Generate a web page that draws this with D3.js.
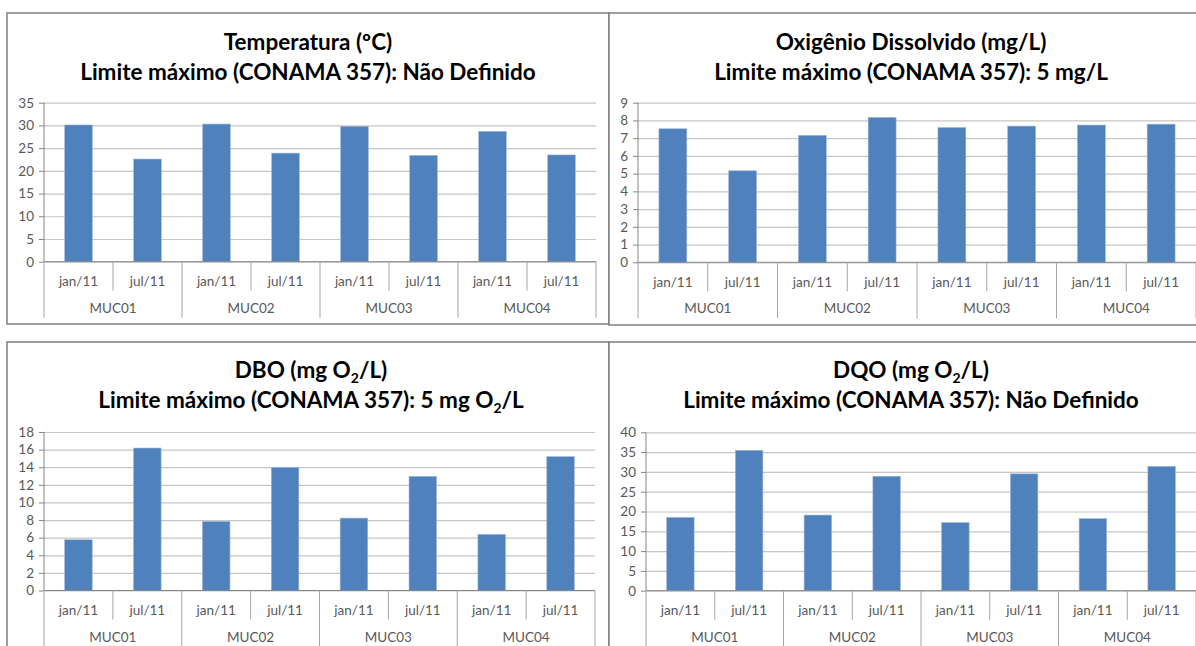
<!DOCTYPE html>
<html>
<head>
<meta charset="utf-8">
<script src="https://cdn.jsdelivr.net/npm/d3@7"></script>
<style>
body { margin: 0; background: #fff; }
svg { display: block; }
</style>
</head>
<body>
<svg width="1196" height="646"></svg>
<script>
const svg = d3.select("svg");

// data
const stations = ["MUC01", "MUC02", "MUC03", "MUC04"];
const periods = ["jan/11", "jul/11"];
const temperatura = [30.1, 22.6, 30.3, 23.9, 29.8, 23.4, 28.7, 23.5];
const oxigenio = [7.53, 5.16, 7.16, 8.17, 7.6, 7.68, 7.74, 7.79];
const dbo = [5.76, 16.18, 7.84, 13.98, 8.22, 12.96, 6.37, 15.2];
const dqo = [18.5, 35.45, 19.1, 28.9, 17.2, 29.5, 18.2, 31.4];
const yMax = [35, 9, 18, 40];
const yStep = [5, 1, 2, 5];
const titles = [
	["Temperatura (ºC)", "Limite máximo (CONAMA 357): Não Definido"],
	["Oxigênio Dissolvido (mg/L)", "Limite máximo (CONAMA 357): 5 mg/L"],
	["DBO (mg O|2|/L)", "Limite máximo (CONAMA 357): 5 mg O|2|/L"],
	["DQO (mg O|2|/L)", "Limite máximo (CONAMA 357): Não Definido"]
];
const series = [temperatura, oxigenio, dbo, dqo];

const categories = [];
stations.forEach(s => periods.forEach(p => categories.push(s + "|" + p)));

const font = "Lato, 'Noto Sans', sans-serif";

// layout of the four panels
const panels = [
	{ frame: [7, 13, 602, 311], cx: 308, titleY: 50, plot: { left: 44, right: 596, top: 102.7, bottom: 261.7 } },
	{ frame: [609, 13, 610, 312], cx: 911, titleY: 50, plot: { left: 638, right: 1196, top: 102.7, bottom: 262.3 } },
	{ frame: [7, 342, 602, 320], cx: 311, titleY: 378, plot: { left: 44, right: 595, top: 432, bottom: 590.5 } },
	{ frame: [609, 342, 610, 320], cx: 911, titleY: 378, plot: { left: 646, right: 1196, top: 432.3, bottom: 590.7 } }
];

const writeTitle = (sel, str) => {
	// "|2|" marks a subscript
	const parts = str.split("|");
	parts.forEach((part, i) => {
		const t = sel.append("tspan").text(part);
		if (i % 2 === 1) {
			t.attr("font-size", 14).attr("dy", 5);
		} else if (i > 0) {
			t.attr("dy", -5);
		}
	});
};

const render = (panel, values, max, step, title) => {
	const [fx, fy, fw, fh] = panel.frame;
	const p = panel.plot;

	svg.append("rect")
		.attr("x", fx).attr("y", fy)
		.attr("width", fw).attr("height", fh)
		.attr("fill", "#fff")
		.attr("stroke", "#7f7f7f")
		.attr("stroke-width", 1.5);

	title.forEach((line, i) => {
		const t = svg.append("text")
			.attr("x", panel.cx)
			.attr("y", panel.titleY + i * 30)
			.attr("text-anchor", "middle")
			.attr("font-family", font)
			.attr("font-weight", "bold")
			.attr("font-size", 22.5)
			.attr("fill", "#000");
		writeTitle(t, line);
	});

	const xScale = d3.scaleBand()
		.domain(categories)
		.range([p.left, p.right]);

	const groupScale = d3.scaleBand()
		.domain(stations)
		.range([p.left, p.right]);

	const yScale = d3.scaleLinear()
		.domain([0, max])
		.range([p.bottom, p.top]);

	const ticks = d3.range(0, max + step / 2, step);

	const yAxis = d3.axisLeft(yScale)
		.tickValues(ticks)
		.tickSize(-(p.right - p.left))
		.tickPadding(10)
		.tickFormat(d3.format("d"));

	const yGroup = svg.append("g")
		.attr("transform", `translate(${p.left},0)`)
		.call(yAxis);
	yGroup.select(".domain").remove();
	yGroup.selectAll(".tick line")
		.attr("stroke", "#c6c6c6")
		.attr("stroke-width", 1.2);
	yGroup.selectAll(".tick")
		.append("line")
		.attr("x1", -5).attr("x2", 0)
		.attr("stroke", "#868686");
	yGroup.selectAll(".tick text")
		.attr("font-family", font)
		.attr("font-size", 13.5)
		.attr("fill", "#595959");

	// bars
	svg.append("g").selectAll("rect")
		.data(values)
		.enter().append("rect")
			.attr("x", (d, i) => xScale(categories[i]) + xScale.bandwidth() * 0.3)
			.attr("width", xScale.bandwidth() * 0.4)
			.attr("y", d => yScale(d))
			.attr("height", d => yScale(0) - yScale(d))
			.attr("fill", "#4f81bd")
			.attr("stroke", "#9db6d9")
			.attr("stroke-width", 0.6);

	// category axis
	const axisColor = "#a6a6a6";
	const cat = svg.append("g");
	cat.append("line")
		.attr("x1", p.left).attr("x2", p.right)
		.attr("y1", p.bottom).attr("y2", p.bottom)
		.attr("stroke", "#868686");
	cat.append("line")
		.attr("x1", p.left).attr("x2", p.left)
		.attr("y1", p.top).attr("y2", p.bottom)
		.attr("stroke", "#868686");

	categories.forEach((c, i) => {
		const x0 = xScale(c);
		if (i % 2 === 1) {
			cat.append("line")
				.attr("x1", x0).attr("x2", x0)
				.attr("y1", p.bottom).attr("y2", p.bottom + 29)
				.attr("stroke", axisColor);
		}
		cat.append("text")
			.attr("x", x0 + xScale.bandwidth() / 2)
			.attr("y", p.bottom + 24.5)
			.attr("text-anchor", "middle")
			.attr("font-family", font)
			.attr("font-size", 13.5)
			.attr("fill", "#595959")
			.text(c.split("|")[1]);
	});

	stations.forEach((s, i) => {
		const x0 = groupScale(s);
		cat.append("line")
			.attr("x1", x0).attr("x2", x0)
			.attr("y1", p.bottom).attr("y2", p.bottom + 56)
			.attr("stroke", axisColor);
		cat.append("text")
			.attr("x", x0 + groupScale.bandwidth() / 2)
			.attr("y", p.bottom + 51)
			.attr("text-anchor", "middle")
			.attr("font-family", font)
			.attr("font-size", 13.5)
			.attr("fill", "#595959")
			.text(s);
	});
	cat.append("line")
		.attr("x1", p.right).attr("x2", p.right)
		.attr("y1", p.bottom).attr("y2", p.bottom + 56)
		.attr("stroke", axisColor);
};

panels.forEach((panel, i) => render(panel, series[i], yMax[i], yStep[i], titles[i]));
</script>
</body>
</html>
